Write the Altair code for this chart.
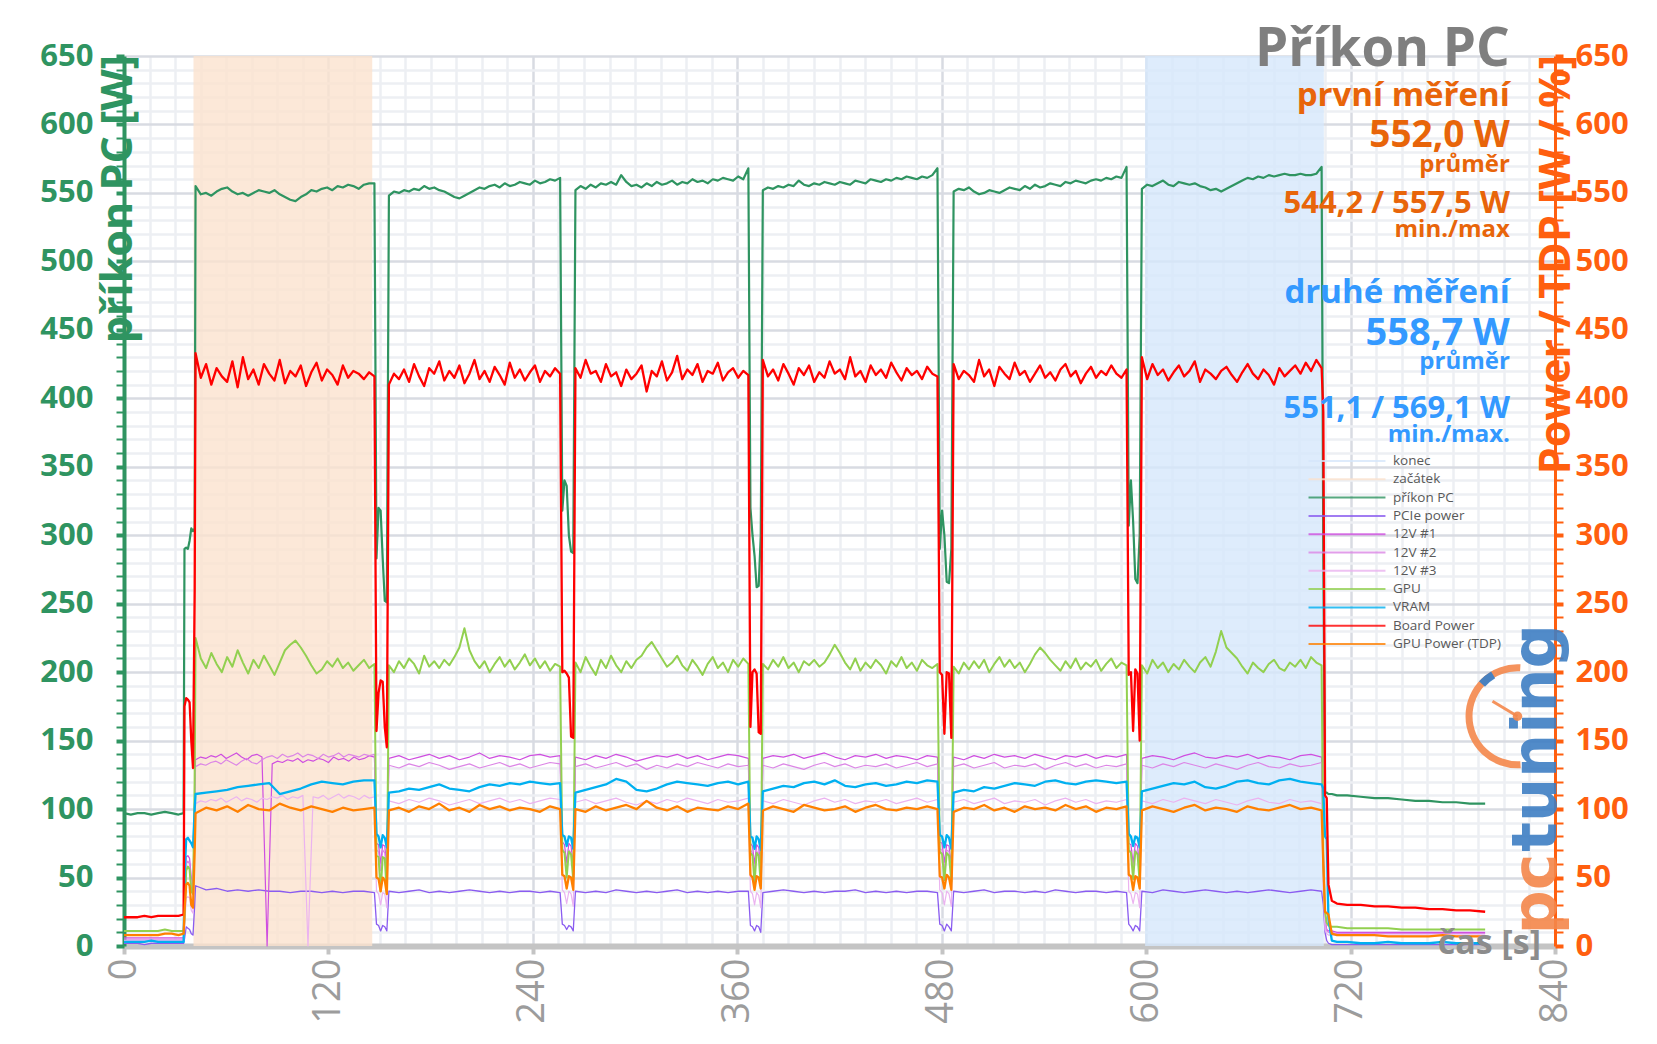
import altair as alt
import numpy as np
import pandas as pd

# ------------------------------------------------------------------ data
series_names = ["konec", "začátek", "příkon PC", "PCIe power", "12V #1", "12V #2",
                "12V #3", "GPU", "VRAM", "Board Power", "GPU Power (TDP)"]
series_colors = ["#D6E7FB", "#FBE2CE", "#2F9461", "#8A5CF0", "#CF4FE0", "#DC86E6",
                 "#EBB3F0", "#92D050", "#00B0F0", "#FF0000", "#FF8000"]
line_widths = {"příkon PC": 2.2, "PCIe power": 1.3, "12V #1": 1.2, "12V #2": 1.2, "12V #3": 1.2,
               "GPU": 2.0, "VRAM": 2.3, "Board Power": 2.3, "GPU Power (TDP)": 2.3}

band_names = ["začátek", "konec"]
band_start = [40.8, 599.4]
band_end = [145.7, 704.3]

# time structure of the measurement (s)
idle_t = [0, 4, 8, 12, 16, 20, 24, 28, 32, 35]
ramp_t = [35.5, 36.5, 37.5, 38.5, 39.5, 40.5, 41.5]
load_start = [42, 155.5, 265, 375, 487, 597.5]
load_end = [147, 256, 366.5, 477.5, 588.5, 703]
tail_t = [704, 705, 706, 707, 709, 712, 718, 726, 734, 742, 750, 758, 766, 774, 782, 790, 799]

pc_idle = [97, 96, 97, 97, 96, 97, 98, 97, 96, 97]
pc_ramp = [290, 291, 290, 296, 305, 303, 305]
pc_L1 = [555, 549, 550, 548, 551, 553, 554, 551, 549, 550, 548, 550, 552, 551, 550, 552, 549, 547, 545, 544, 547, 549, 552, 551, 553, 554, 552, 555, 554, 556, 555, 553, 556, 557, 557]
pc_L2 = [548, 551, 550, 552, 551, 553, 552, 555, 553, 554, 552, 551, 549, 547, 546, 548, 550, 552, 554, 553, 555, 556, 554, 557, 555, 556, 558, 557, 556, 559, 557, 558, 560, 559, 561]
pc_L3 = [552, 555, 553, 556, 554, 557, 556, 558, 556, 563, 558, 555, 556, 554, 557, 555, 558, 556, 557, 559, 556, 558, 557, 560, 558, 559, 557, 560, 559, 561, 560, 559, 562, 560, 568]
pc_L4 = [552, 554, 553, 555, 554, 556, 555, 559, 556, 555, 557, 556, 558, 557, 556, 558, 557, 556, 559, 558, 557, 560, 559, 558, 560, 559, 561, 560, 562, 561, 560, 562, 561, 563, 568]
pc_L5 = [551, 553, 552, 554, 551, 549, 550, 552, 551, 550, 552, 554, 553, 552, 555, 553, 556, 554, 555, 557, 556, 555, 558, 557, 559, 558, 557, 559, 560, 559, 561, 560, 562, 561, 569]
pc_L6 = [553, 556, 555, 557, 559, 556, 555, 558, 557, 556, 557, 555, 554, 552, 553, 551, 553, 555, 557, 559, 561, 560, 562, 561, 563, 562, 563, 564, 563, 563, 564, 563, 563, 564, 569]
pc_dips = [[283, 320, 318, 283, 252, 251], [318, 340, 336, 300, 288, 287], [320, 300, 285, 262, 263, 300],
           [290, 318, 300, 266, 265, 290], [307, 340, 310, 268, 265, 300]]
pc_tail = [287, 112, 112, 111, 111, 110, 110, 109, 108, 108, 107, 106, 106, 105, 105, 104, 104]

bp_idle = [21, 21, 21, 22, 21, 22, 22, 22, 22, 23]
bp_ramp = [175, 181, 180, 178, 150, 130, 260]
bp_L1 = [433, 415, 425, 410, 422, 416, 412, 427, 408, 430, 414, 421, 410, 425, 418, 413, 428, 411, 420, 416, 424, 409, 419, 426, 413, 421, 417, 410, 424, 415, 420, 418, 414, 419, 416]
bp_L2 = [410, 418, 414, 421, 412, 425, 416, 409, 422, 418, 427, 413, 420, 415, 424, 411, 418, 428, 414, 420, 412, 423, 417, 410, 426, 415, 421, 413, 419, 424, 412, 420, 416, 422, 418]
bp_L3 = [422, 415, 428, 418, 420, 412, 425, 416, 419, 409, 421, 414, 418, 424, 405, 420, 416, 427, 413, 419, 431, 414, 421, 417, 425, 412, 420, 418, 426, 413, 419, 422, 415, 420, 417]
bp_L4 = [428, 416, 421, 413, 425, 418, 410, 422, 417, 424, 412, 419, 415, 427, 418, 421, 414, 430, 416, 420, 412, 424, 417, 421, 415, 426, 419, 413, 422, 417, 420, 414, 423, 418, 416]
bp_L5 = [425, 414, 420, 417, 412, 428, 416, 421, 409, 423, 418, 414, 426, 417, 420, 412, 418, 424, 415, 419, 413, 421, 425, 416, 420, 411, 418, 423, 415, 420, 417, 424, 418, 415, 421]
bp_L6 = [430, 414, 425, 417, 421, 413, 419, 424, 416, 420, 427, 412, 421, 418, 414, 420, 423, 417, 412, 419, 425, 418, 414, 421, 417, 410, 422, 416, 420, 424, 418, 426, 420, 428, 422]
bp_dips = [[157, 185, 194, 193, 160, 145], [200, 201, 199, 196, 153, 152], [160, 200, 202, 199, 156, 155],
           [200, 198, 155, 200, 199, 152], [198, 200, 157, 202, 199, 150]]
bp_tail = [390, 110, 108, 45, 33, 31, 30, 30, 29, 29, 28, 28, 27, 27, 26, 26, 25]

gpu_idle = [11, 11, 11, 11, 11, 11, 12, 11, 11, 11]
gpu_ramp = [20, 55, 58, 56, 40, 38, 120]
gpu_L1 = [225, 210, 203, 214, 206, 200, 211, 204, 216, 207, 199, 209, 203, 212, 205, 198, 207, 216, 220, 223, 218, 212, 205, 199, 202, 208, 204, 210, 203, 207, 201, 205, 209, 203, 206]
gpu_L2 = [205, 200, 208, 203, 210, 206, 199, 212, 204, 208, 203, 209, 205, 211, 218, 232, 216, 208, 203, 208, 200, 206, 211, 204, 209, 202, 207, 213, 205, 210, 203, 208, 201, 206, 204]
gpu_L3 = [207, 200, 211, 204, 198, 209, 203, 212, 205, 200, 208, 203, 209, 212, 218, 222, 216, 210, 204, 207, 212, 205, 201, 209, 204, 198, 206, 211, 203, 207, 200, 209, 204, 210, 206]
gpu_L4 = [206, 202, 209, 204, 211, 203, 207, 200, 208, 205, 209, 204, 207, 213, 220, 214, 207, 202, 210, 201, 207, 203, 209, 205, 199, 208, 204, 211, 203, 207, 201, 209, 205, 203, 206]
gpu_L5 = [204, 199, 207, 202, 208, 203, 209, 200, 206, 211, 204, 209, 203, 207, 200, 206, 213, 218, 214, 209, 205, 201, 208, 203, 210, 202, 207, 204, 209, 201, 206, 210, 203, 207, 205]
gpu_L6 = [205, 199, 209, 203, 207, 200, 206, 202, 209, 204, 200, 207, 211, 204, 215, 230, 218, 214, 210, 204, 199, 207, 203, 200, 206, 209, 203, 201, 207, 204, 209, 203, 211, 207, 205]
gpu_dips = [[66, 65, 40, 65, 64, 38], [70, 68, 50, 69, 67, 48], [68, 66, 46, 68, 66, 45],
            [69, 67, 48, 68, 66, 47], [70, 68, 49, 69, 67, 46]]
gpu_tail = [60, 25, 17, 15, 14, 14, 13, 13, 13, 13, 12, 12, 12, 12, 12, 12, 12]

vram_idle = [3, 3, 3, 3, 4, 3, 3, 3, 3, 3]
vram_ramp = [50, 78, 79, 77, 75, 72, 100]
vram_L1 = [111, 112, 113, 114, 116, 117, 118, 119, 111, 113, 115, 118, 120, 119, 118, 120, 121, 121]
vram_L2 = [112, 113, 115, 114, 116, 118, 115, 114, 113, 116, 118, 117, 119, 118, 120, 119, 118, 119]
vram_L3 = [112, 114, 116, 118, 122, 120, 114, 113, 115, 118, 120, 119, 118, 117, 119, 120, 118, 120]
vram_L4 = [113, 115, 117, 116, 119, 120, 118, 121, 117, 116, 118, 119, 117, 118, 120, 119, 121, 120]
vram_L5 = [112, 114, 113, 116, 115, 117, 119, 118, 117, 120, 121, 119, 118, 120, 121, 120, 119, 120]
vram_L6 = [113, 115, 117, 119, 118, 120, 116, 115, 117, 120, 121, 119, 118, 121, 122, 120, 119, 118]
vram_dips = [[82, 80, 72, 81, 79, 72], [81, 80, 73, 80, 79, 71], [80, 79, 71, 80, 78, 70],
             [81, 80, 72, 81, 79, 71], [82, 80, 73, 80, 79, 72]]
vram_tail = [115, 80, 78, 20, 4, 3, 3, 2, 2, 3, 2, 2, 2, 3, 2, 2, 2]

tdp_idle = [8, 8, 8, 8, 8, 8, 9, 9, 8, 9]
tdp_ramp = [25, 45, 46, 44, 30, 28, 70]
tdp_L1 = [97, 101, 99, 102, 98, 103, 100, 99, 104, 101, 99, 102, 100, 98, 101, 99, 100, 101]
tdp_L2 = [99, 101, 98, 102, 100, 104, 99, 101, 98, 103, 100, 102, 99, 101, 100, 98, 102, 100]
tdp_L3 = [100, 98, 102, 99, 101, 103, 100, 106, 101, 99, 102, 98, 101, 100, 99, 102, 100, 104]
tdp_L4 = [99, 102, 100, 98, 103, 101, 99, 100, 102, 98, 101, 103, 100, 99, 101, 100, 102, 100]
tdp_L5 = [98, 101, 100, 103, 99, 101, 98, 102, 100, 101, 99, 103, 100, 102, 98, 101, 100, 102]
tdp_L6 = [99, 102, 100, 98, 101, 103, 99, 101, 100, 98, 102, 100, 99, 101, 103, 100, 101, 99]
tdp_dips = [[50, 49, 40, 50, 48, 38], [52, 51, 42, 51, 50, 41], [52, 50, 41, 51, 50, 42],
            [51, 50, 42, 52, 50, 41], [52, 51, 41, 51, 50, 42]]
tdp_tail = [60, 25, 24, 23, 9, 8, 8, 8, 8, 7, 7, 7, 7, 8, 7, 7, 7]

v1_idle = [6, 6, 6, 6, 6, 6, 6, 6, 6, 6]
v1_ramp = [20, 65, 66, 64, 50, 45, 110]
v1_L1 = [136, 138, 137, 139, 138, 140, 137, 139, 141, 138, 136, 139, 140, 138, 0, 133, 135, 134, 136, 135, 137, 134, 136, 135, 137, 136, 134, 138, 136, 137, 135, 138, 136, 137, 139, 138]
v1_L2 = [137, 139, 136, 138, 140, 137, 139, 136, 138, 141, 137, 139, 138, 136, 139, 140, 138, 139]
v1_L3 = [138, 136, 139, 137, 140, 138, 135, 137, 139, 138, 140, 137, 139, 136, 138, 140, 139, 137]
v1_L4 = [137, 139, 138, 140, 137, 139, 141, 138, 136, 139, 138, 140, 137, 139, 138, 136, 139, 138]
v1_L5 = [138, 136, 139, 137, 140, 138, 139, 137, 140, 138, 136, 139, 138, 140, 137, 139, 138, 140]
v1_L6 = [137, 139, 138, 136, 139, 141, 138, 137, 139, 138, 140, 137, 139, 138, 136, 139, 140, 138]
v1_dips = [[75, 74, 60, 74, 73, 58], [76, 74, 61, 75, 73, 59], [75, 73, 60, 74, 72, 58],
           [76, 75, 61, 74, 73, 59], [75, 74, 60, 75, 73, 58]]
v1_tail = [70, 20, 12, 11, 11, 10, 10, 10, 10, 10, 10, 10, 10, 10, 10, 10, 10]

v2_idle = [5, 5, 5, 5, 5, 5, 5, 5, 5, 5]
v2_ramp = [18, 60, 62, 60, 46, 40, 105]
v2_L1 = [131, 133, 132, 134, 135, 133, 136, 134, 132, 135, 137, 134, 133, 136, 138, 139, 137, 140, 138, 139, 141, 138, 140, 139, 137, 140, 138, 139, 141, 138, 140, 139, 138, 140, 139, 140]
v2_L2 = [132, 130, 133, 131, 134, 132, 129, 131, 133, 130, 132, 134, 131, 133, 130, 132, 134, 133]
v2_L3 = [131, 133, 130, 132, 134, 131, 133, 129, 132, 130, 133, 131, 134, 132, 130, 133, 131, 132]
v2_L4 = [132, 130, 133, 131, 129, 132, 134, 131, 133, 130, 132, 131, 133, 130, 132, 134, 131, 133]
v2_L5 = [131, 133, 130, 132, 134, 130, 132, 131, 133, 129, 132, 134, 131, 133, 130, 132, 131, 133]
v2_L6 = [132, 130, 133, 131, 134, 132, 130, 133, 131, 129, 132, 134, 131, 130, 133, 131, 132, 134]
v2_dips = [[70, 69, 55, 70, 68, 52], [71, 69, 56, 70, 68, 53], [70, 68, 55, 69, 68, 52],
           [71, 70, 56, 70, 69, 53], [70, 69, 55, 70, 68, 52]]
v2_tail = [65, 18, 11, 10, 10, 9, 9, 9, 9, 9, 9, 9, 9, 9, 9, 9, 9]

v3_idle = [4, 4, 4, 4, 4, 4, 4, 4, 4, 4]
v3_ramp = [10, 35, 36, 35, 26, 24, 80]
v3_L1 = [104, 106, 105, 107, 106, 108, 105, 107, 109, 106, 108, 107, 105, 108, 107, 109, 108, 110, 107, 109, 108, 110, 0, 109, 108, 110, 107, 109, 111, 108, 110, 109, 107, 110, 108, 109]
v3_L2 = [106, 104, 107, 105, 108, 106, 103, 105, 107, 104, 106, 108, 105, 107, 104, 106, 108, 107]
v3_L3 = [105, 107, 104, 106, 108, 105, 103, 106, 104, 107, 105, 108, 106, 104, 107, 105, 106, 108]
v3_L4 = [106, 104, 107, 105, 103, 106, 108, 105, 107, 104, 106, 105, 107, 104, 106, 108, 105, 107]
v3_L5 = [105, 107, 104, 106, 108, 104, 106, 105, 107, 103, 106, 108, 105, 107, 104, 106, 105, 107]
v3_L6 = [106, 104, 107, 105, 108, 106, 104, 107, 105, 103, 106, 108, 105, 104, 107, 105, 106, 104]
v3_dips = [[40, 38, 30, 39, 38, 28], [41, 39, 31, 40, 38, 29], [40, 38, 30, 39, 37, 28],
           [41, 39, 30, 40, 38, 29], [40, 38, 31, 39, 38, 28]]
v3_tail = [40, 12, 9, 8, 8, 8, 8, 8, 8, 8, 8, 8, 8, 8, 8, 8, 8]

pcie_idle = [2, 2, 2, 1, 2, 2, 2, 2, 2, 2]
pcie_ramp = [5, 14, 13, 12, 9, 8, 30]
pcie_L1 = [44, 41, 42, 40, 41, 40, 41, 40, 40, 39, 40, 40, 39, 40, 39, 40, 40, 39]
pcie_L2 = [40, 39, 40, 41, 39, 40, 39, 40, 41, 40, 39, 40, 39, 40, 40, 39, 40, 39]
pcie_L3 = [40, 39, 40, 39, 41, 40, 39, 40, 39, 40, 41, 39, 40, 39, 40, 39, 40, 40]
pcie_L4 = [39, 40, 41, 40, 39, 40, 39, 40, 40, 41, 39, 40, 39, 40, 39, 40, 40, 39]
pcie_L5 = [40, 39, 40, 41, 39, 40, 40, 39, 40, 39, 41, 40, 39, 40, 40, 39, 40, 39]
pcie_L6 = [40, 39, 41, 40, 39, 40, 41, 40, 39, 40, 39, 40, 41, 40, 39, 40, 41, 40]
pcie_dips = [[16, 15, 11, 15, 14, 11], [16, 15, 12, 15, 14, 11], [15, 14, 11, 15, 14, 10],
             [16, 15, 11, 16, 14, 11], [16, 14, 11, 15, 14, 11]]
pcie_tail = [30, 10, 4, 2, 1, 1, 1, 1, 1, 1, 1, 1, 1, 1, 1, 1, 1]

series_data = {
    "příkon PC": (pc_idle, pc_ramp, [pc_L1, pc_L2, pc_L3, pc_L4, pc_L5, pc_L6], pc_dips, pc_tail),
    "PCIe power": (pcie_idle, pcie_ramp, [pcie_L1, pcie_L2, pcie_L3, pcie_L4, pcie_L5, pcie_L6], pcie_dips, pcie_tail),
    "12V #1": (v1_idle, v1_ramp, [v1_L1, v1_L2, v1_L3, v1_L4, v1_L5, v1_L6], v1_dips, v1_tail),
    "12V #2": (v2_idle, v2_ramp, [v2_L1, v2_L2, v2_L3, v2_L4, v2_L5, v2_L6], v2_dips, v2_tail),
    "12V #3": (v3_idle, v3_ramp, [v3_L1, v3_L2, v3_L3, v3_L4, v3_L5, v3_L6], v3_dips, v3_tail),
    "GPU": (gpu_idle, gpu_ramp, [gpu_L1, gpu_L2, gpu_L3, gpu_L4, gpu_L5, gpu_L6], gpu_dips, gpu_tail),
    "VRAM": (vram_idle, vram_ramp, [vram_L1, vram_L2, vram_L3, vram_L4, vram_L5, vram_L6], vram_dips, vram_tail),
    "Board Power": (bp_idle, bp_ramp, [bp_L1, bp_L2, bp_L3, bp_L4, bp_L5, bp_L6], bp_dips, bp_tail),
    "GPU Power (TDP)": (tdp_idle, tdp_ramp, [tdp_L1, tdp_L2, tdp_L3, tdp_L4, tdp_L5, tdp_L6], tdp_dips, tdp_tail),
}

# annotation texts (top right)
ann_gray = ["Příkon PC"]
ann_gray_y = [642.6]
ann_gray_size = [53]
ann_orange = ["první měření", "552,0 W", "průměr", "544,2 / 557,5 W", "min./max"]
ann_orange_y = [613.3, 583.8, 565.0, 535.0, 517.8]
ann_orange_size = [33, 37, 24, 31, 24]
ann_blue = ["druhé měření", "558,7 W", "průměr", "551,1 / 569,1 W", "min./max."]
ann_blue_y = [469.8, 438.6, 421.4, 385.3, 368.1]
ann_blue_size = [33, 38, 24, 31, 24]
ann_x = 813.5

# axis titles
title_left = "příkon PC [W]"
title_right = "Power / TDP [W / %]"
title_bottom = "čas [s]"

# ------------------------------------------------------------------ build tables
rows = []
for name, (idle, ramp, loads, dips, tail) in series_data.items():
    ts, vs = list(idle_t), list(idle)
    ts += ramp_t
    vs += ramp
    for i in range(6):
        ts += list(np.linspace(load_start[i], load_end[i], len(loads[i])))
        vs += loads[i]
        if i < 5:
            ts += list(np.linspace(load_end[i], load_start[i + 1], len(dips[i]) + 2)[1:-1])
            vs += dips[i]
    ts += tail_t
    vs += tail
    for k, (t, v) in enumerate(zip(ts, vs)):
        rows.append({"t": float(t), "v": float(v), "s": name, "k": k})
line_df = pd.DataFrame(rows)
band_df = pd.DataFrame({"s": band_names, "start": band_start, "end": band_end})

W, H = 1431, 890
PX_PER_S = W / 840
PX_PER_W = H / 650
FONT = "Open Sans"
GREEN = "#2F9461"
ORANGE_AX = "#FF5F0F"

xscale = alt.Scale(domain=[0, 840], nice=False, zero=False)
yscale = alt.Scale(domain=[0, 650], nice=False)
color_scale = alt.Scale(domain=series_names, range=series_colors)

legend = alt.Legend(
    title=None, orient="none", legendX=1216, legendY=398,
    symbolType="M-6.8,0H6.8", symbolSize=128, symbolStrokeWidth=2, labelOffset=39,
    rowPadding=4.3, padding=0,
    labelFont=FONT, labelFontSize=13.5, labelColor="#595959", symbolFillColor="transparent",
)

major50 = "datum.value % 50 === 0"
major120 = "datum.value % 120 === 0"

x_axis = alt.Axis(
    values=list(range(0, 841, 15)),
    labelExpr=f"{major120} ? datum.label : ''",
    labelAngle=270, labelFont=FONT, labelFontSize=38, labelColor="#9C9C9C",
    labelPadding=4, labelOverlap=False, labelFlush=False, format="d",
    tickSize=8, tickWidth=4,
    tickColor={"condition": {"test": major120, "value": "#C4C4C4"}, "value": "rgba(0,0,0,0)"},
    domainColor="#C4C4C4", domainWidth=6,
    grid=True,
    gridColor={"condition": {"test": major120, "value": "#D8DBE2"}, "value": "#EDEFF3"},
    gridWidth=2.5,
    title=None,
)

left_axis = alt.Axis(
    values=list(range(0, 651, 10)),
    labelExpr=f"{major50} ? datum.label : ''",
    labelFont=FONT, labelFontSize=31, labelFontWeight="bold", labelColor=GREEN,
    labelPadding=23, labelOverlap=False,
    tickSize=8,
    tickWidth={"condition": {"test": major50, "value": 4}, "value": 2},
    tickColor=GREEN, domainColor=GREEN, domainWidth=4,
    grid=True,
    gridColor={"condition": {"test": major50, "value": "#D8DBE2"}, "value": "#EDEFF3"},
    gridWidth=2.5,
    title=None,
)

right_axis = alt.Axis(
    orient="right",
    values=list(range(0, 651, 10)),
    labelExpr=f"{major50} ? datum.label : ''",
    labelFont=FONT, labelFontSize=31, labelFontWeight="bold", labelColor=ORANGE_AX,
    labelPadding=12, labelOverlap=False,
    tickSize=8,
    tickWidth={"condition": {"test": major50, "value": 4}, "value": 2},
    tickColor=ORANGE_AX, domainColor=ORANGE_AX, domainWidth=3,
    grid=False,
    title=None,
)

bands = alt.Chart(band_df).mark_rect(opacity=0.8).encode(
    x=alt.X("start:Q", scale=xscale, axis=None),
    x2="end:Q",
    color=alt.Color("s:N", scale=color_scale, legend=legend),
)

line_layers = []
for i, (name, w) in enumerate(line_widths.items()):
    line_layers.append(
        alt.Chart(line_df).transform_filter(alt.datum.s == name).mark_line(
            strokeWidth=w, strokeJoin="round"
        ).encode(
            x=alt.X("t:Q", scale=xscale, axis=x_axis if i == 0 else None),
            y=alt.Y("v:Q", scale=yscale, axis=left_axis if i == 0 else None),
            color=alt.Color("s:N", scale=color_scale, legend=legend),
            order="k:Q",
        )
    )

right = alt.Chart(pd.DataFrame({"v": [0, 650]})).mark_point(opacity=0).encode(
    y=alt.Y("v:Q", scale=yscale, axis=right_axis),
)


def pos(xf, yf):
    return dict(x=alt.X(f"{xf}:Q", scale=xscale, axis=None), y=alt.Y(f"{yf}:Q", scale=yscale, axis=None))


def text_layer(texts, ys, sizes, color):
    df = pd.DataFrame({"txt": texts, "ty": ys, "fs": sizes, "tx": [ann_x] * len(texts)})
    return alt.Chart(df).mark_text(
        align="right", baseline="alphabetic", font=FONT, fontWeight="bold", color=color,
    ).encode(text="txt:N", size=alt.Size("fs:Q", scale=None, legend=None), **pos("tx", "ty"))


ann_layers = [text_layer(ann_gray, ann_gray_y, ann_gray_size, "#7F7F7F"),
              text_layer(ann_orange, ann_orange_y, ann_orange_size, "#E8650A"),
              text_layer(ann_blue, ann_blue_y, ann_blue_size, "#3399FF")]

# axis titles drawn on top of the axis lines, as in the original
title_layers = [
    alt.Chart(pd.DataFrame({"w": [title_left], "tx": [8 / PX_PER_S], "ty": [650 + 1 / PX_PER_W]})).mark_text(
        angle=270, align="right", baseline="alphabetic", font=FONT, fontWeight="bold",
        fontSize=43, color=GREEN).encode(text="w:N", **pos("tx", "ty")),
    alt.Chart(pd.DataFrame({"w": [title_right], "tx": [840 + 15 / PX_PER_S], "ty": [650 + 1 / PX_PER_W]})).mark_text(
        angle=270, align="right", baseline="alphabetic", font=FONT, fontWeight="bold",
        fontSize=43, color=ORANGE_AX).encode(text="w:N", **pos("tx", "ty")),
    alt.Chart(pd.DataFrame({"w": [title_bottom], "tx": [840 - 14 / PX_PER_S], "ty": [-8 / PX_PER_W]})).mark_text(
        align="right", baseline="alphabetic", font=FONT, fontWeight="bold",
        fontSize=34, color="#8C8C8C").encode(text="w:N", **pos("tx", "ty")),
]

# logo (watermark)
logo_txt = ["pc", "tuning"]
logo_y = [38, 152]
logo_col = ["#F4874B", "#3F7FC4"]
logo_layers = []
for word, ly, col in zip(logo_txt, logo_y, logo_col):
    logo_layers.append(
        alt.Chart(pd.DataFrame({"w": [word], "lx": [829.5], "ly": [ly]})).mark_text(
            angle=270, align="center", baseline="middle", font="DejaVu Sans",
            fontWeight="bold", fontSize=62, color=col, opacity=0.9,
        ).encode(text="w:N", **pos("lx", "ly"))
    )
arc_df = pd.DataFrame({"cx": [818.0], "cy": [167.8], "nx": [803.3], "ny": [178.8]})
logo_layers.append(alt.Chart(arc_df).mark_arc(radius=52, radius2=45, theta=3.08, theta2=6.34,
                                              color="#F4874B", opacity=0.9).encode(**pos("cx", "cy")))
logo_layers.append(alt.Chart(arc_df).mark_arc(radius=52, radius2=44, theta=5.45, theta2=5.75,
                                              color="#3F7FC4", opacity=0.95).encode(**pos("cx", "cy")))
logo_layers.append(alt.Chart(arc_df).mark_rule(color="#F4874B", strokeWidth=3, opacity=0.9).encode(
    x2="nx:Q", y2="ny:Q", **pos("cx", "cy")))
logo_layers.append(alt.Chart(arc_df).mark_point(filled=True, size=90, color="#F4874B", opacity=0.9).encode(**pos("cx", "cy")))

chart = alt.layer(bands, *line_layers, right, *logo_layers, *title_layers, *ann_layers).resolve_axis(
    x="independent", y="independent"
).properties(
    width=W, height=H,
    autosize=alt.AutoSizeParams(type="none"),
    padding={"left": 116, "top": 48, "right": 92, "bottom": 84},
    background="white",
).configure_view(stroke=None)

chart.save("out.html", embed_options={"renderer": "svg", "actions": False})
